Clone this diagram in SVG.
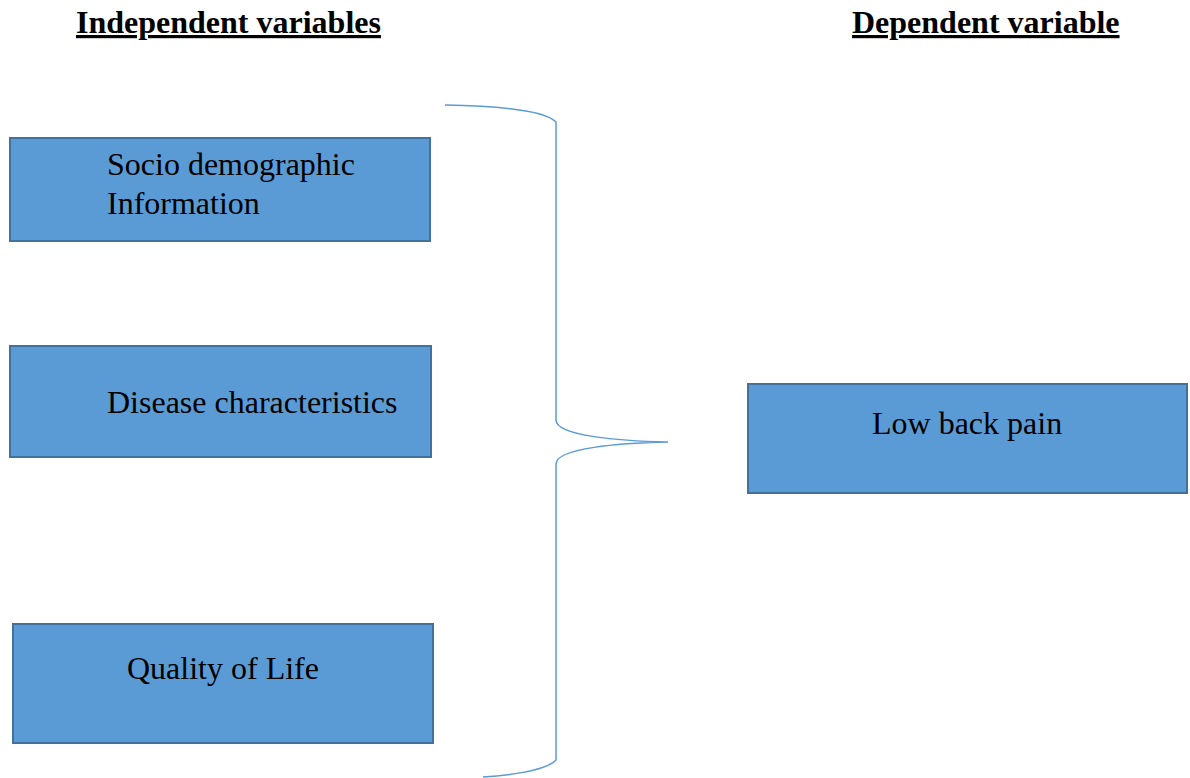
<svg xmlns="http://www.w3.org/2000/svg" width="1190" height="778" viewBox="0 0 1190 778">
<style>
.box{fill:#5B9BD5;stroke:#41719C;stroke-width:2}
.t{font-family:"Liberation Serif","Times New Roman",serif;font-size:32px;fill:#000}
.h{font-family:"Liberation Serif","Times New Roman",serif;font-size:32px;font-weight:bold;fill:#000;text-decoration:underline}
.brace{fill:none;stroke:#5B9BD5;stroke-width:1.5}
</style>
<rect width="1190" height="778" fill="#fff"/>
<text class="h" x="76" y="33">Independent variables</text>
<text class="h" x="852" y="33">Dependent variable</text>
<g id="connectors">
<path class="brace" d="M445,105 C500,106 545,110 556,122 L556,420 C556,436 620,441 668,442 C620,443 556,448 556,464 L556,760 C545,772 500,776 483,777"/>
</g>
<g id="node1">
<rect class="box" x="10" y="138" width="420" height="103"/>
<text class="t" x="107" y="175">Socio demographic</text>
<text class="t" x="107" y="214">Information</text>
</g>
<g id="node2">
<rect class="box" x="10" y="346" width="421" height="111"/>
<text class="t" x="107" y="413">Disease characteristics</text>
</g>
<g id="node3">
<rect class="box" x="13" y="624" width="420" height="119"/>
<text class="t" x="127" y="679">Quality of Life</text>
</g>
<g id="node4">
<rect class="box" x="748" y="384" width="439" height="109"/>
<text class="t" x="872" y="434">Low back pain</text>
</g>
</svg>
